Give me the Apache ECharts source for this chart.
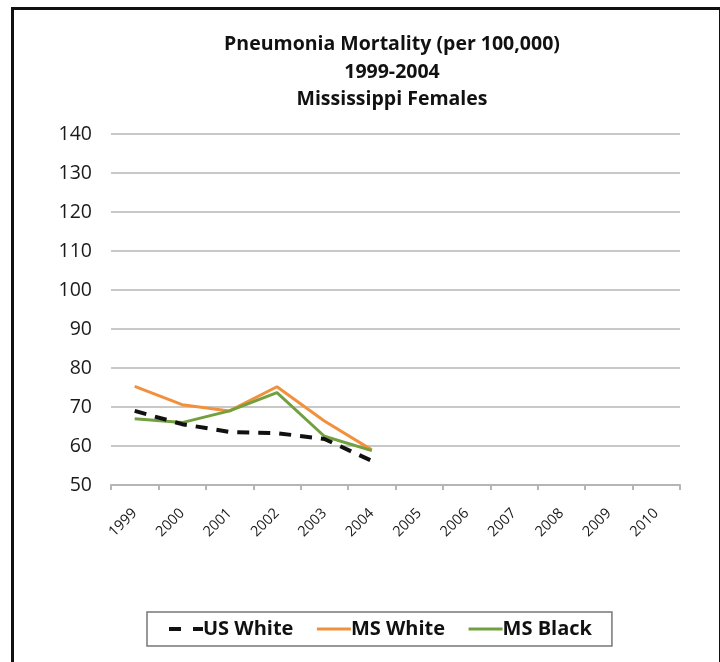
<!DOCTYPE html>
<html>
<head>
<meta charset="utf-8">
<script src="https://cdn.jsdelivr.net/npm/echarts@6/dist/echarts.min.js"></script>
<style>
  html, body { margin: 0; padding: 0; background: #fff; }
  #main { width: 720px; height: 662px; }
</style>
</head>
<body>
<div id="main"></div>
<script>
// years on the x axis (only 1999-2004 have data)
const years = ['1999', '2000', '2001', '2002', '2003', '2004', '2005', '2006', '2007', '2008', '2009', '2010'];
// rates per 100,000
const usWhite = [69, 65.6, 63.6, 63.3, 61.8, 56.2];
const msWhite = [75.3, 70.6, 69, 75.2, 66.4, 59];
const msBlack = [67, 66, 69, 73.7, 62.5, 58.8];

const font = "'Open Sans', 'Liberation Sans', sans-serif";

const myChart = echarts.init(document.getElementById('main'));
myChart.setOption({
  animation: false,
  backgroundColor: '#fff',
  textStyle: { fontFamily: font },
  title: {
    text: 'Pneumonia Mortality (per 100,000)\n1999-2004\nMississippi Females',
    left: 387,
    textAlign: 'center',
    top: 26,
    textStyle: { fontSize: 19.5, fontWeight: 'bold', color: '#111', lineHeight: 27.5, fontFamily: font },
  },
  // outer frame
  graphic: [
    {
      type: 'rect',
      left: 10,
      top: 6,
      shape: { width: 708, height: 700 },
      style: { fill: 'none', stroke: '#111', lineWidth: 3 },
      silent: true,
    },
  ],
  legend: {
    left: 147,
    top: 612,
    padding: [7, 20, 7, 20],
    borderColor: '#777',
    borderWidth: 1.5,
    itemWidth: 34,
    itemHeight: 14,
    itemGap: 22,
    itemStyle: { color: 'rgba(0,0,0,0)', borderColor: 'rgba(0,0,0,0)', borderWidth: 0 },
    textStyle: { fontSize: 20, fontWeight: 'bold', color: '#111', padding: [0, 0, 0, -5] },
    data: [
      { name: 'US White', lineStyle: { type: [12, 12], width: 4 } },
      { name: 'MS White', lineStyle: { width: 3 } },
      { name: 'MS Black', lineStyle: { width: 3 } },
    ],
  },
  grid: {
    left: 111,
    right: 40,
    top: 134,
    bottom: 177,
    containLabel: false,
  },
  xAxis: {
    type: 'category',
    data: years,
    boundaryGap: true,
    axisLine: { lineStyle: { color: '#b5b5b5', width: 2 } },
    axisTick: { show: true, length: 5, lineStyle: { color: '#b5b5b5', width: 2 } },
    axisLabel: { rotate: 45, margin: 26, fontSize: 14.5, color: '#1a1a1a', interval: 0 },
  },
  yAxis: {
    type: 'value',
    min: 50,
    max: 140,
    interval: 10,
    axisLine: { show: false },
    axisTick: { show: false },
    axisLabel: { fontSize: 19.5, color: '#1a1a1a', margin: 19 },
    splitLine: { lineStyle: { color: '#c8c8c8', width: 2 } },
  },
  series: [
    {
      name: 'US White',
      type: 'line',
      data: usWhite,
      symbol: 'none',
      lineStyle: { color: '#111', width: 4, type: [12, 9] },
      itemStyle: { color: '#111' },
      z: 3,
    },
    {
      name: 'MS White',
      type: 'line',
      data: msWhite,
      symbol: 'none',
      lineStyle: { color: '#f2913d', width: 3 },
      itemStyle: { color: '#f2913d' },
      z: 2,
    },
    {
      name: 'MS Black',
      type: 'line',
      data: msBlack,
      symbol: 'none',
      lineStyle: { color: '#72a03e', width: 3 },
      itemStyle: { color: '#72a03e' },
      z: 2,
    },
  ],
});
</script>
</body>
</html>
